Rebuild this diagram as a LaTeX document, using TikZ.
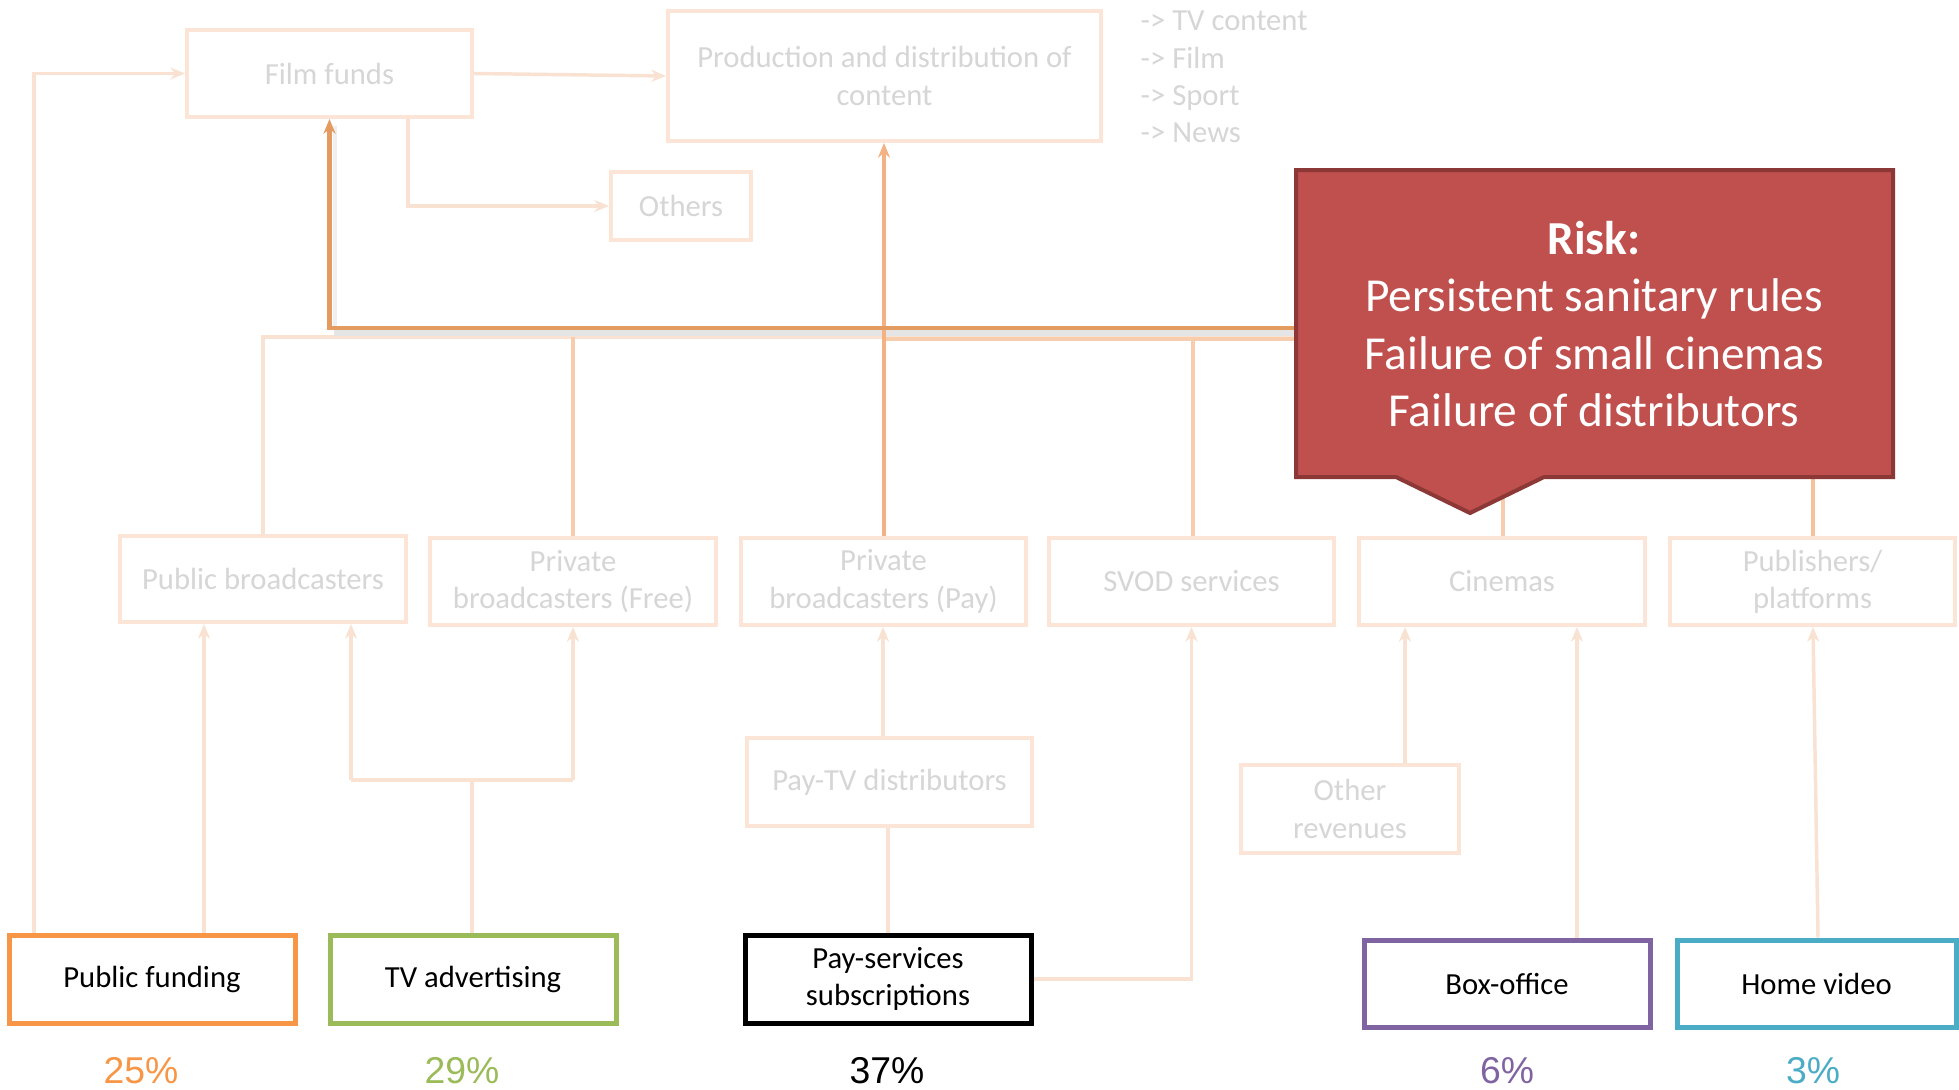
\documentclass[tikz,border=0pt]{standalone}
\usepackage{fontspec}
\setmainfont{Carlito}
\newfontfamily\pctfont{Liberation Sans}
\usetikzlibrary{arrows.meta}

\definecolor{boxline}{HTML}{FCE4D6}
\definecolor{greytext}{HTML}{D6D6D6}
\definecolor{flowfaint}{HTML}{F9E2D2}
\definecolor{flowlight}{HTML}{F8CDAE}
\definecolor{flowmid}{HTML}{F4B183}
\definecolor{flowdark}{HTML}{E39B5F}
\definecolor{riskfill}{HTML}{C0504D}
\definecolor{riskline}{HTML}{8C3836}
\definecolor{cfund}{HTML}{F79646}
\definecolor{cadv}{HTML}{9BBB59}
\definecolor{cbox}{HTML}{8064A2}
\definecolor{chome}{HTML}{4BACC6}

\begin{document}
\begin{tikzpicture}[x=0.75pt,y=-0.75pt,
  wh/.style 2 args={minimum width=#1*0.75pt, minimum height=#2*0.75pt},
  flowbox/.style={draw=boxline, line width=3pt, inner sep=0pt, text=greytext,
    align=center, font=\fontsize{23}{28}\selectfont},
  srcbox/.style={line width=3.75pt, inner sep=0pt, text=black, align=center,
    font=\fontsize{23}{28}\selectfont},
  pct/.style={font=\pctfont\fontsize{28}{32}\selectfont},
  flow/.style={draw=flowfaint, line width=2.6pt},
  arr/.style={-{Stealth[length=11pt,width=9pt]}}]
\useasboundingbox[fill=white] (0,0) rectangle (1959,1089);

% upper level
\node[flowbox, wh={285}{87}] (ff) at (329.5,73.5) {Film funds};
\node[flowbox, wh={433}{130}] (prod) at (884.5,76) {Production and distribution of\\content};
\node[flowbox, wh={140}{68}] (oth) at (681,206) {Others};
\node[anchor=west, align=left, text=greytext, font=\fontsize{23}{28}\selectfont] (kinds) at (1136,77)
  {-> TV content\\-> Film\\-> Sport\\-> News};

% middle level
\node[flowbox, wh={286}{86}] (pb) at (263,579) {Public broadcasters};
\node[flowbox, wh={286}{87}] (pf) at (573,581.5) {Private\\broadcasters (Free)};
\node[flowbox, wh={285}{87}] (pp) at (883.5,581.5) {Private\\broadcasters (Pay)};
\node[flowbox, wh={285}{87}] (svod) at (1191.5,581.5) {SVOD services};
\node[flowbox, wh={286}{87}] (cin) at (1502,581.5) {Cinemas};
\node[flowbox, wh={285}{87}] (pub) at (1812.5,581.5) {Publishers/\\platforms};
\node[flowbox, wh={285}{88}] (ptv) at (889.5,782) {Pay-TV distributors};
\node[flowbox, wh={218}{88}] (orev) at (1350,809) {Other\\revenues};

% revenue sources
\node[srcbox, draw=cfund, wh={286}{88}] (pfund) at (152,979) {Public funding};
\node[srcbox, draw=cadv, wh={286}{88}] (tvad) at (473,979) {TV advertising};
\node[srcbox, draw=black, wh={286}{88}] (pay) at (888,979) {Pay-services\\subscriptions};
\node[srcbox, draw=cbox, wh={286}{87}] (bo) at (1507,983.5) {Box-office};
\node[srcbox, draw=chome, wh={279}{87}] (hv) at (1816.5,983.5) {Home video};

\node[pct, text=cfund] (p1) at (141,1071) {25\%};
\node[pct, text=cadv] (p2) at (462,1071) {29\%};
\node[pct, text=black] (p3) at (887,1071) {37\%};
\node[pct, text=cbox] (p4) at (1507,1071) {6\%};
\node[pct, text=chome] (p5) at (1813,1071) {3\%};

% flows from the sources
\coordinate (advsplit) at (472,780);
\coordinate (advL) at (351,780);
\coordinate (advR) at (573,780);
\draw[flow,arr] (pfund.north -| 34,0) |- (ff.west);
\draw[flow,arr] (pfund.north -| 204,0) -- (pb.south -| 204,0);
\draw[flow] (tvad.north -| advsplit) -- (advsplit);
\draw[flow] (advL) -- (advR);
\draw[flow,arr] (advL) -- (advL |- pb.south);
\draw[flow,arr] (advR) -- (advR |- pf.south);
\draw[flow] (pay.north) -- (pay.north |- ptv.south);
\draw[flow,arr] (ptv.north -| 883,0) -- (pp.south -| 883,0);
\draw[flow,arr] (pay.east) -| (svod.south);
\draw[flow,arr] (orev.north -| 1405,0) -- (cin.south -| 1405,0);
\draw[flow,arr] (bo.north -| 1577,0) -- (cin.south -| 1577,0);
\draw[flow,arr] (hv.north -| 1818,0) -- (pub.south -| 1813,0);

% flows between upper boxes
\draw[flow,arr] (ff.east) -- (prod.west);
\draw[flow,arr] (ff.south -| 408,0) |- (oth.west);

% collecting lines from the middle level
\coordinate (busL) at (263,337);
\coordinate (busR) at (1420,337);
\draw[flow] (pb.north -| busL) -- (busL) -- (busR);
\draw[flowlight, line width=2.6pt] (pf.north -| 573,0) -- (573,337);
\draw[flowlight, line width=2.6pt] (svod.north -| 1193,0) -- (1193,337);
\draw[flowlight, line width=2.6pt] (cin.north -| 1503,0) -- (1503,420);
\draw[flowmid!80, line width=2.6pt] (pub.north -| 1813,0) -- (1813,420);
\draw[flowlight, line width=2.6pt] (884,339) -- (1420,339);
\draw[black!10, line width=4pt] (334,333) -- (1420,333);
\draw[flowmid, line width=2.6pt, arr] (pp.north -| 884,0) -- (prod.south -| 884,0);
\draw[black!6, line width=3pt] (335,126) -- (335,330);
\draw[flowdark, line width=3.6pt, arr] (1420,328) -| (ff.south);

% risk callout
\draw[riskline, fill=riskfill, line width=3pt, line join=miter]
  (1296,170) -- (1893,170) -- (1893,477) -- (1544,477) -- (1470,513)
  -- (1396,477) -- (1296,477) -- cycle;
\node[text=white, align=center, font=\fontsize{35.5}{43}\selectfont] (risk) at (1594,324)
  {\textbf{Risk:}\\Persistent sanitary rules\\Failure of small cinemas\\Failure of distributors};
\end{tikzpicture}
\end{document}
